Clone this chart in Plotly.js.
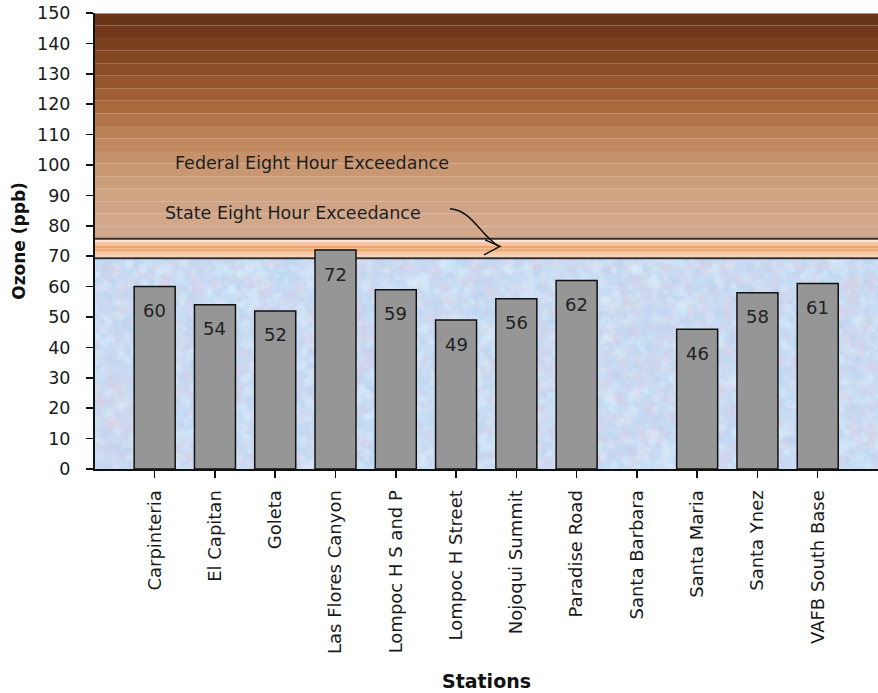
<!DOCTYPE html>
<html>
<head>
<meta charset="utf-8">
<script src="https://cdn.plot.ly/plotly-3.0.1.min.js"></script>
<style>html,body{margin:0;padding:0;background:#fff;}#chart{width:878px;height:693px;}</style>
</head>
<body>
<div id="chart"></div>
<script>
// ---- data ----
const stations = ["Carpinteria","El Capitan","Goleta","Las Flores Canyon","Lompoc H S and P","Lompoc H Street","Nojoqui Summit","Paradise Road","Santa Barbara","Santa Maria","Santa Ynez","VAFB South Base"];
const ozone = [60, 54, 52, 72, 59, 49, 56, 62, null, 46, 58, 61];
const stateLevel = 69.3;
const federalLevel = 75.7;
const yTicks = [0,10,20,30,40,50,60,70,80,90,100,110,120,130,140,150];

// ---- background texture (mottled blue) ----
function makeTexture(){
  const c = document.createElement('canvas');
  c.width = 780; c.height = 210;
  const g = c.getContext('2d');
  g.fillStyle = 'rgb(198,221,244)';
  g.fillRect(0,0,c.width,c.height);
  let s = 12345;
  const rnd = () => { s = (s * 1103515245 + 12345) % 2147483648; return s / 2147483648; };
  const cols = ['rgba(222,204,228,0.22)','rgba(222,240,252,0.32)','rgba(180,208,240,0.22)','rgba(228,212,232,0.18)'];
  for (let i = 0; i < 9000; i++) {
    g.fillStyle = cols[Math.floor(rnd()*cols.length)];
    const x = rnd()*c.width, y = rnd()*c.height, r = 1 + rnd()*4;
    g.beginPath(); g.ellipse(x, y, r*1.4, r, rnd()*3, 0, Math.PI*2); g.fill();
  }
  return c.toDataURL('image/png');
}

// ---- background bands ----
const stops = [[76,[212,170,143]],[90,[207,162,130]],[100,[200,150,112]],[110,[188,130,88]],[120,[166,102,58]],[130,[143,80,40]],[140,[122,63,29]],[150,[102,50,21]]];
function colAt(v){
  for (let i = 0; i < stops.length-1; i++){
    const a = stops[i], b = stops[i+1];
    if (v >= a[0] && v <= b[0]){
      const t = (v - a[0])/(b[0]-a[0]);
      const c = a[1].map((x,k)=>Math.round(x + (b[1][k]-x)*t));
      return 'rgb('+c.join(',')+')';
    }
  }
  return 'rgb(212,170,143)';
}
const shapes = [];
const nb = 18;
for (let i = 0; i < nb; i++){
  const y0 = federalLevel + (150-federalLevel)*i/nb;
  const y1 = federalLevel + (150-federalLevel)*(i+1)/nb;
  shapes.push({type:'rect', xref:'paper', yref:'y', x0:0, x1:1, y0:y0, y1:y1, fillcolor:colAt((y0+y1)/2), line:{width:0}, layer:'below'});
}
const strip = [[1.0,'#fde5dc'],[0.8,'#f7c6a6'],[0.62,'#f0a56c'],[0.45,'#f2ad76'],[0.2,'#f6caa8'],[0.0,'#f8d4b8']];
const span = federalLevel - stateLevel;
for (let i = 0; i < strip.length; i++){
  const top = stateLevel + span*(i/strip.length);
  const bot = stateLevel + span*((i+1)/strip.length);
  shapes.push({type:'rect', xref:'paper', yref:'y', x0:0, x1:1, y0:top, y1:bot, fillcolor:strip[strip.length-1-i][1], line:{width:0}, layer:'below'});
}
shapes.push({type:'line', xref:'paper', yref:'y', x0:0, x1:1, y0:federalLevel, y1:federalLevel, line:{color:'#333', width:2}, layer:'below'});
shapes.push({type:'line', xref:'paper', yref:'y', x0:0, x1:1, y0:stateLevel, y1:stateLevel, line:{color:'#333', width:2}, layer:'below'});
shapes.push({type:'line', xref:'paper', yref:'y', x0:0, x1:1, y0:150, y1:150, line:{color:'#9a9a9a', width:2}, layer:'above'});
// curved arrow
shapes.push({type:'path', xref:'paper', yref:'y', path:'M 0.4534 85.58 C 0.4815 84.93 0.4891 78.01 0.5147 73.40', line:{color:'#111', width:1.5}, layer:'above'});
shapes.push({type:'path', xref:'paper', yref:'y', path:'M 0.4981 75.38 L 0.5172 73.24 L 0.4968 70.44', line:{color:'#111', width:1.5}, layer:'above'});

const annotations = [];
stations.forEach((s,i)=>{
  if (ozone[i] != null) annotations.push({x:i, y:ozone[i], xref:'x', yref:'y', text:String(ozone[i]), showarrow:false, yshift:-24, font:{family:'DejaVu Sans', size:18, color:'#222'}});
});
annotations.push({x:(173-95)/783, y:100.7, xref:'paper', yref:'y', xanchor:'left', text:'Federal Eight Hour Exceedance', showarrow:false, font:{family:'DejaVu Sans', size:17.5, color:'#1e1e1e'}});
annotations.push({x:(163-95)/783, y:84.3, xref:'paper', yref:'y', xanchor:'left', text:'State Eight Hour Exceedance', showarrow:false, font:{family:'DejaVu Sans', size:17.5, color:'#1e1e1e'}});

const trace = {
  type:'bar', x: stations.map((s,i)=>i), y: ozone, width:0.68,
  marker:{color:'#969696', line:{color:'#111', width:1.5}},
  hoverinfo:'skip'
};

const layout = {
  width:878, height:693,
  margin:{l:95, r:0, t:13, b:224},
  paper_bgcolor:'#fff', plot_bgcolor:'rgba(0,0,0,0)',
  showlegend:false,
  font:{family:'DejaVu Sans', color:'#1a1a1a'},
  xaxis:{
    range:[-0.99, 12], tickmode:'array', tickvals: stations.map((s,i)=>i), ticktext: stations,
    tickangle:-90, ticks:'outside', ticklen:7, tickcolor:'#111', tickwidth:1.5,
    showline:true, linecolor:'#111', linewidth:2, showgrid:false, zeroline:false,
    tickfont:{family:'DejaVu Sans', size:18, color:'#1a1a1a'}, ticklabelstandoff:5,
    title:{text:'<b>Stations</b>', font:{family:'DejaVu Sans', size:19, color:'#111'}, standoff:22}
  },
  yaxis:{
    range:[0,150], tickmode:'array', tickvals:yTicks, ticks:'outside', ticklen:7, tickcolor:'#111', tickwidth:1.5,
    showline:true, linecolor:'#111', linewidth:2, showgrid:false, zeroline:false,
    tickfont:{family:'DejaVu Sans', size:17.5, color:'#1a1a1a'}, ticklabelstandoff:12,
    title:{text:'<b>Ozone (ppb)</b>', font:{family:'DejaVu Sans', size:17, color:'#111'}, standoff:7}
  },
  shapes: shapes,
  annotations: annotations,
  images:[{source: makeTexture(), xref:'paper', yref:'y', x:0, y:stateLevel, sizex:1, sizey:stateLevel, sizing:'stretch', xanchor:'left', yanchor:'top', layer:'below'}]
};

Plotly.newPlot('chart', [trace], layout, {displayModeBar:false, staticPlot:true});
</script>
</body>
</html>
